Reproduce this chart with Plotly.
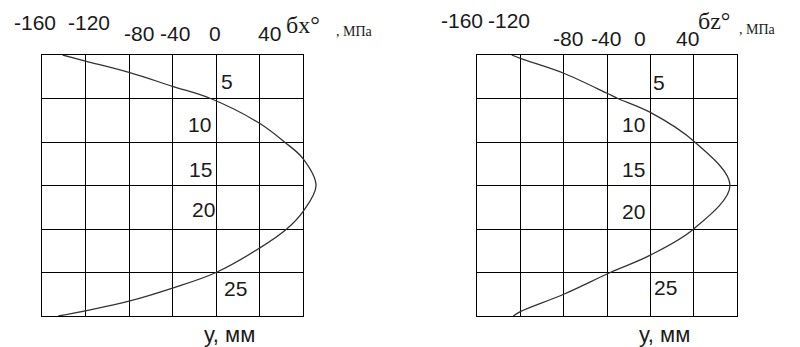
import plotly.graph_objects as go

# Residual stress profiles through the thickness
depth_x = [0, 0.7, 2.0, 3.6, 5.0, 7.85, 10.0, 11.9, 15.0, 18.0, 20.0, 22.2, 25.0, 26.8, 28.3, 29.4, 30.0]
sigma_x = [-141, -120, -80, -40, -5, 40, 63, 80, 92, 80, 65, 40, 0, -40, -80, -120, -145]

depth_z = [0, 0.4, 2.1, 4.4, 5.0, 6.6, 10.0, 15.0, 20.0, 23.0, 25.0, 27.5, 29.5, 30.0]
sigma_z = [-128, -120, -80, -40, -30, 0, 41, 73.5, 40, 0, -37, -80, -120, -126.5]

stress_ticks = ["-160", "-120", "-80", "-40", "0", "40"]
depth_ticks = ["5", "10", "15", "20", "25"]

W, H = 800, 347
FONT = "Liberation Sans, Arial, sans-serif"
SERIF = "Liberation Serif, Times New Roman, serif"
INK = "#1a1a1a"

# grid boxes in pixels: -160..80 MPa across, 0..30 mm down
LX0, LX1 = 42, 303
RX0, RX1 = 477, 737
TOP, BOT = 55, 316
X_MIN, X_MAX, X_OVER = -160, 80, 100

def over_domain(x0, x1):
    # a wider axis with the same scale, so the curve may run past the grid box
    scale = (x1 - x0) / (X_MAX - X_MIN)
    return [x0 / W, (x0 + (X_OVER - X_MIN) * scale) / W]

fig = go.Figure()
# empty traces register the two grid subplots
for xa, ya in (("x", "y"), ("x2", "y2")):
    fig.add_trace(go.Scatter(x=[], y=[], mode="lines", xaxis=xa, yaxis=ya, hoverinfo="skip", showlegend=False))
fig.add_trace(go.Scatter(x=sigma_x, y=depth_x, mode="lines", line=dict(color="#333", width=1.3, shape="spline"),
                         xaxis="x3", yaxis="y3", showlegend=False))
fig.add_trace(go.Scatter(x=sigma_z, y=depth_z, mode="lines", line=dict(color="#333", width=1.3, shape="spline"),
                         xaxis="x4", yaxis="y4", showlegend=False))

grid_x = dict(range=[X_MIN, X_MAX], dtick=40, tick0=-160, showgrid=True, gridcolor="black", gridwidth=1.4,
              showline=True, mirror=True, linecolor="black", linewidth=1.4, zeroline=False,
              showticklabels=False, ticks="", fixedrange=True)
grid_y = dict(range=[30, 0], dtick=5, tick0=0, showgrid=True, gridcolor="black", gridwidth=1.4,
              showline=True, mirror=True, linecolor="black", linewidth=1.4, zeroline=False,
              showticklabels=False, ticks="", fixedrange=True)
curve_x = dict(range=[X_MIN, X_OVER], visible=False, showgrid=False, zeroline=False, fixedrange=True)
curve_y = dict(range=[30, 0], visible=False, showgrid=False, zeroline=False, fixedrange=True,
               domain=[1 - BOT / H, 1 - TOP / H])

def px(xp, yp):
    return xp / W, 1 - yp / H

annotations = []

def label(text, xp, yp, size=21, family=FONT, xanchor="center"):
    x, y = px(xp, yp)
    annotations.append(dict(text=text, x=x, y=y, xref="paper", yref="paper", showarrow=False,
                            xanchor=xanchor, yanchor="middle", font=dict(family=family, size=size, color=INK)))

# stress tick labels above each panel
left_top = [(35, 22), (88.5, 22), (139, 34), (174.5, 34), (215.5, 34), (269.5, 34)]
right_top = [(462, 21), (508.5, 21), (567.5, 38), (605.5, 38), (640, 38), (687, 38)]
for t, (a, b) in zip(stress_ticks, left_top):
    label(t, a, b)
for t, (a, b) in zip(stress_ticks, right_top):
    label(t, a, b)

# depth labels inside the grids
left_in = [(226.5, 81), (199.5, 124), (200.5, 170), (203.5, 210), (235, 288)]
right_in = [(659, 83), (633.5, 124), (633.5, 169), (633.5, 212), (665, 287)]
for t, (a, b) in zip(depth_ticks, left_in):
    label(t, a, b)
for t, (a, b) in zip(depth_ticks, right_in):
    label(t, a, b)

# axis titles
label("бx°", 284, 25, size=24, family=SERIF, xanchor="left")
label(", МПа", 334, 32, size=14, family=SERIF, xanchor="left")
label("бz°", 696, 21, size=24, family=SERIF, xanchor="left")
label(", МПа", 737, 30, size=14, family=SERIF, xanchor="left")
label("у, мм", 229, 334, size=22)
label("у, мм", 664, 334, size=22)

fig.update_layout(
    width=W, height=H, margin=dict(l=0, r=0, t=0, b=0),
    paper_bgcolor="white", plot_bgcolor="rgba(0,0,0,0)",
    xaxis=dict(grid_x, domain=[LX0 / W, LX1 / W], anchor="y"),
    yaxis=dict(grid_y, domain=[1 - BOT / H, 1 - TOP / H], anchor="x"),
    xaxis2=dict(grid_x, domain=[RX0 / W, RX1 / W], anchor="y2"),
    yaxis2=dict(grid_y, domain=[1 - BOT / H, 1 - TOP / H], anchor="x2"),
    xaxis3=dict(curve_x, domain=over_domain(LX0, LX1), anchor="y3"),
    yaxis3=dict(curve_y, anchor="x3"),
    xaxis4=dict(curve_x, domain=over_domain(RX0, RX1), anchor="y4"),
    yaxis4=dict(curve_y, anchor="x4"),
    annotations=annotations,
    showlegend=False,
)

fig.write_html("out.html", config=dict(displayModeBar=False))
